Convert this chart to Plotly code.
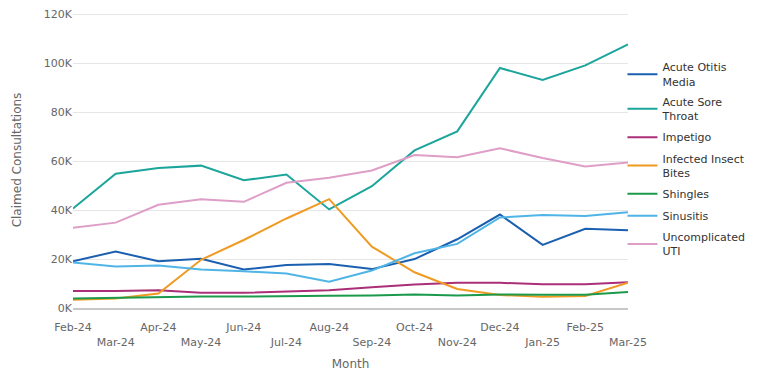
import plotly.graph_objects as go

months = ["Feb-24", "Mar-24", "Apr-24", "May-24", "Jun-24", "Jul-24", "Aug-24",
          "Sep-24", "Oct-24", "Nov-24", "Dec-24", "Jan-25", "Feb-25", "Mar-25"]

acute_otitis_media = [19100, 23100, 19100, 20100, 15700, 17600, 18000,
                      15900, 20000, 28100, 38200, 25800, 32400, 31800]
acute_sore_throat = [40700, 54900, 57200, 58200, 52200, 54600, 40300,
                     49800, 64400, 72200, 98100, 93200, 99200, 107800]
impetigo = [6900, 6900, 7300, 6200, 6200, 6600, 7300,
            8500, 9600, 10300, 10300, 9700, 9700, 10500]
infected_insect_bites = [3400, 3900, 5900, 19700, 27800, 36600, 44500,
                         25100, 14600, 7800, 5300, 4600, 4900, 10300]
shingles = [3900, 4200, 4600, 4700, 4700, 5000, 5000,
            5100, 5500, 5100, 5500, 5400, 5400, 6500]
sinusitis = [18600, 17000, 17400, 15700, 15000, 14100, 10700,
             15300, 22400, 26200, 37000, 38000, 37600, 39100]
uncomplicated_uti = [32800, 34900, 42200, 44500, 43400, 51200, 53200,
                     56200, 62500, 61600, 65300, 61300, 57800, 59500]

series = [
    ("Acute Otitis<br>Media", acute_otitis_media, "#1b5fb0"),
    ("Acute Sore<br>Throat", acute_sore_throat, "#1ba59b"),
    ("Impetigo", impetigo, "#aa2f78"),
    ("Infected Insect<br>Bites", infected_insect_bites, "#f09a22"),
    ("Shingles", shingles, "#1c9a4c"),
    ("Sinusitis", sinusitis, "#4fb5e6"),
    ("Uncomplicated<br>UTI", uncomplicated_uti, "#de9ec7"),
]

y_ticks = [0, 20000, 40000, 60000, 80000, 100000, 120000]
y_tick_labels = ["0K", "20K", "40K", "60K", "80K", "100K", "120K"]
x_tick_labels = [m if i % 2 == 0 else "<br>" + m for i, m in enumerate(months)]

FONT = "DejaVu Sans"

fig = go.Figure()
for i, (name, vals, color) in enumerate(series):
    fig.add_trace(go.Scatter(
        x=months, y=vals, name=name, mode="lines",
        line=dict(color=color, width=2),
        legendgroup="g%d" % i,
    ))

fig.update_layout(
    width=768, height=383,
    margin=dict(l=65, r=148, t=4, b=83, autoexpand=False),
    paper_bgcolor="white", plot_bgcolor="white",
    font=dict(family=FONT, size=11, color="#666666"),
    showlegend=True,
    legend=dict(
        x=0.99, y=0.86, xanchor="left", yanchor="top",
        font=dict(family=FONT, size=11, color="#333333"),
        itemwidth=30, tracegroupgap=3,
        bgcolor="rgba(0,0,0,0)",
    ),
    xaxis=dict(
        type="category", range=[0, 13], automargin=False,
        tickvals=months, ticktext=x_tick_labels,
        showgrid=False, showline=True, linecolor="#c8c8c8", linewidth=2,
        ticks="", tickfont=dict(size=11, color="#666666"),
        ticklabelstandoff=8, ticklabeloverflow="allow",
        title=dict(text="Month", font=dict(size=12, color="#666666"), standoff=12),
        zeroline=False,
    ),
    yaxis=dict(
        range=[0, 121000], tickvals=y_ticks, ticktext=y_tick_labels,
        automargin=False, ticklabeloverflow="allow",
        showgrid=True, gridcolor="#e6e6e6", gridwidth=1,
        zeroline=False, showline=False, ticks="",
        tickfont=dict(size=11, color="#666666"),
        title=dict(text="Claimed Consultations", font=dict(size=12, color="#666666"), standoff=19),
    ),
)

fig.write_html("out.html")
